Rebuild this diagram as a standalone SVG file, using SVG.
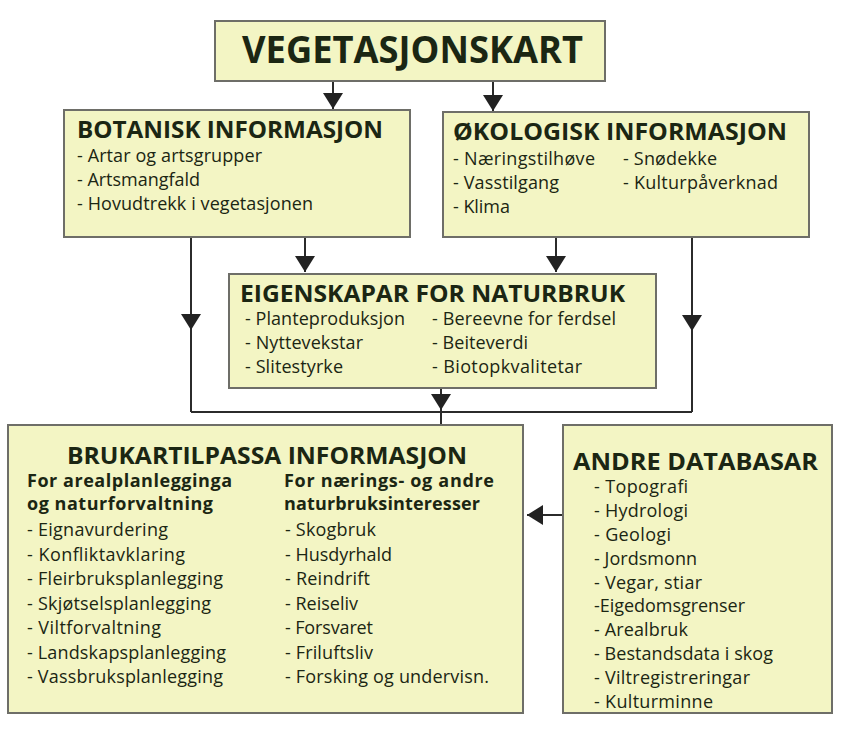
<svg xmlns="http://www.w3.org/2000/svg" width="842" height="736" viewBox="0 0 842 736">
<style>
.box{fill:#f3f5c4;stroke:#6e6e68;stroke-width:2}
.t{font-family:"Open Sans","Liberation Sans",sans-serif;fill:#1b2613}
.h0{font-size:37px;font-weight:700}
.h1{font-size:24px;font-weight:700}
.sh{font-size:18px;font-weight:700}
.it{font-size:18px}
.ln{stroke:#2b2b2b;stroke-width:2;fill:none}
.ar{marker-end:url(#ah)}
</style>
<defs>
<marker id="ah" markerUnits="userSpaceOnUse" markerWidth="20" markerHeight="20" refX="16" refY="10" orient="auto" viewBox="0 0 20 20">
<path d="M0,0 L16,10 L0,20 Z" fill="#222"/>
</marker>
</defs>
<rect width="842" height="736" fill="#ffffff"/>

<g id="connectors">
<line class="ln ar" x1="333" y1="81" x2="333" y2="109"/>
<line class="ln ar" x1="493" y1="81" x2="493" y2="111"/>
<line class="ln ar" x1="305" y1="237" x2="305" y2="272"/>
<line class="ln ar" x1="556" y1="237" x2="556" y2="272"/>
<line class="ln ar" x1="191" y1="237" x2="191" y2="330"/>
<line class="ln" x1="191" y1="329" x2="191" y2="412"/>
<line class="ln ar" x1="692" y1="237" x2="692" y2="331"/>
<line class="ln" x1="692" y1="330" x2="692" y2="412"/>
<polyline class="ln" points="191,412 692,412"/>
<line class="ln ar" x1="441" y1="388" x2="441" y2="410"/>
<line class="ln" x1="441" y1="409" x2="441" y2="425"/>
<line class="ln ar" x1="563" y1="515" x2="527" y2="515"/>
</g>

<g id="vegetasjonskart">
<rect class="box" x="215" y="21" width="390" height="60"/>
<text class="t h0" x="242" y="63" textLength="341" lengthAdjust="spacingAndGlyphs">VEGETASJONSKART</text>
</g>

<g id="botanisk">
<rect class="box" x="64" y="110" width="346" height="127"/>
<text class="t h1" x="77" y="138" textLength="306" lengthAdjust="spacingAndGlyphs">BOTANISK INFORMASJON</text>
<text class="t it" x="77" y="162" textLength="185">- Artar og artsgrupper</text>
<text class="t it" x="77" y="186" textLength="123">- Artsmangfald</text>
<text class="t it" x="77" y="210" textLength="236">- Hovudtrekk i vegetasjonen</text>
</g>

<g id="okologisk">
<rect class="box" x="443" y="112" width="366" height="125"/>
<text class="t h1" x="453" y="140" textLength="334" lengthAdjust="spacingAndGlyphs">ØKOLOGISK INFORMASJON</text>
<text class="t it" x="453" y="165" textLength="142">- Næringstilhøve</text>
<text class="t it" x="453" y="189" textLength="106">- Vasstilgang</text>
<text class="t it" x="453" y="213" textLength="57">- Klima</text>
<text class="t it" x="623" y="165" textLength="94">- Snødekke</text>
<text class="t it" x="623" y="189" textLength="155">- Kulturpåverknad</text>
</g>

<g id="eigenskapar">
<rect class="box" x="229" y="274" width="427" height="114"/>
<text class="t h1" x="240" y="302" textLength="385" lengthAdjust="spacingAndGlyphs">EIGENSKAPAR FOR NATURBRUK</text>
<text class="t it" x="245" y="325" textLength="160">- Planteproduksjon</text>
<text class="t it" x="245" y="349" textLength="118">- Nyttevekstar</text>
<text class="t it" x="245" y="373" textLength="98">- Slitestyrke</text>
<text class="t it" x="432" y="325" textLength="184">- Bereevne for ferdsel</text>
<text class="t it" x="432" y="349" textLength="96">- Beiteverdi</text>
<text class="t it" x="432" y="373" textLength="150">- Biotopkvalitetar</text>
</g>

<g id="brukartilpassa">
<rect class="box" x="8" y="425" width="515" height="288"/>
<text class="t h1" x="67" y="464" textLength="400" lengthAdjust="spacingAndGlyphs">BRUKARTILPASSA INFORMASJON</text>
<text class="t sh" x="27" y="487" textLength="205">For arealplanlegginga</text>
<text class="t sh" x="27" y="510" textLength="186">og naturforvaltning</text>
<text class="t sh" x="284" y="487" textLength="210">For nærings- og andre</text>
<text class="t sh" x="284" y="510" textLength="196">naturbruksinteresser</text>
<text class="t it" x="27" y="536" textLength="141">- Eignavurdering</text>
<text class="t it" x="27" y="560.5" textLength="158">- Konfliktavklaring</text>
<text class="t it" x="27" y="585" textLength="196">- Fleirbruksplanlegging</text>
<text class="t it" x="27" y="609.5" textLength="184">- Skjøtselsplanlegging</text>
<text class="t it" x="27" y="634" textLength="134">- Viltforvaltning</text>
<text class="t it" x="27" y="658.5" textLength="199">- Landskapsplanlegging</text>
<text class="t it" x="27" y="683" textLength="196">- Vassbruksplanlegging</text>
<text class="t it" x="285" y="536" textLength="91">- Skogbruk</text>
<text class="t it" x="285" y="560.5" textLength="107">- Husdyrhald</text>
<text class="t it" x="285" y="585" textLength="85">- Reindrift</text>
<text class="t it" x="285" y="609.5" textLength="73">- Reiseliv</text>
<text class="t it" x="285" y="634" textLength="88">- Forsvaret</text>
<text class="t it" x="285" y="658.5" textLength="88">- Friluftsliv</text>
<text class="t it" x="285" y="683" textLength="204">- Forsking og undervisn.</text>
</g>

<g id="andre">
<rect class="box" x="563" y="425" width="269" height="288"/>
<text class="t h1" x="573" y="470" textLength="245" lengthAdjust="spacingAndGlyphs">ANDRE DATABASAR</text>
<text class="t it" x="594" y="493" textLength="94">- Topografi</text>
<text class="t it" x="594" y="517" textLength="94">- Hydrologi</text>
<text class="t it" x="594" y="541" textLength="77">- Geologi</text>
<text class="t it" x="594" y="565" textLength="103">- Jordsmonn</text>
<text class="t it" x="594" y="589" textLength="108">- Vegar, stiar</text>
<text class="t it" x="594" y="612" textLength="151">-Eigedomsgrenser</text>
<text class="t it" x="594" y="636" textLength="94">- Arealbruk</text>
<text class="t it" x="594" y="660" textLength="179">- Bestandsdata i skog</text>
<text class="t it" x="594" y="684" textLength="156">- Viltregistreringar</text>
<text class="t it" x="594" y="708" textLength="119">- Kulturminne</text>
</g>
</svg>
